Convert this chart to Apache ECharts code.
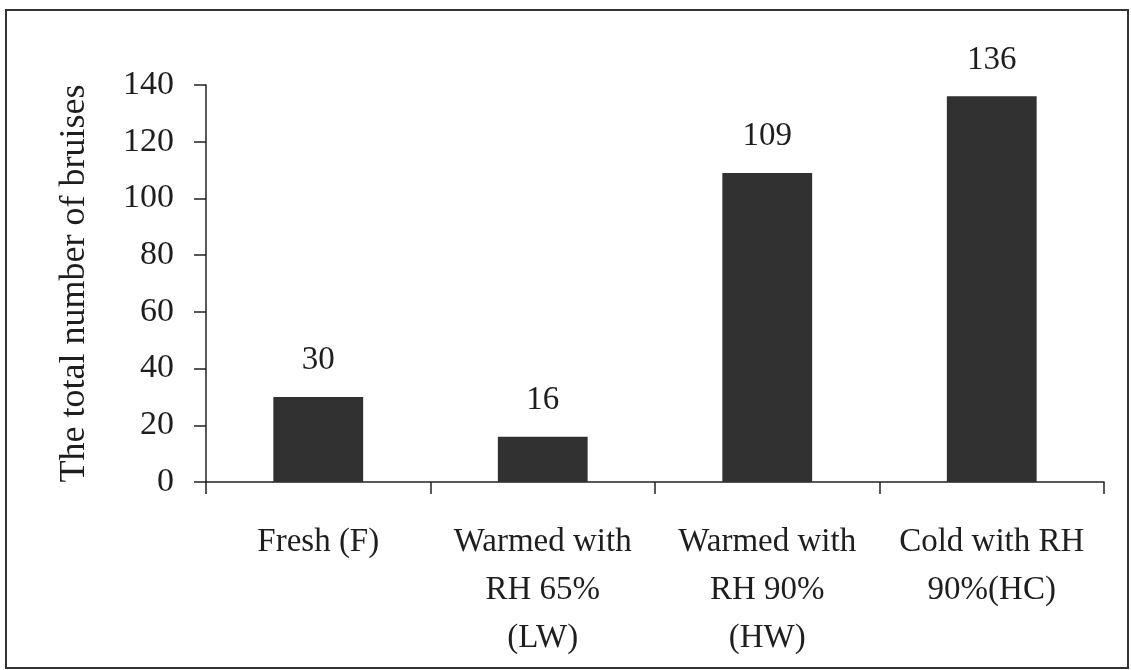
<!DOCTYPE html>
<html>
<head>
<meta charset="utf-8">
<script src="https://cdn.jsdelivr.net/npm/echarts@6/dist/echarts.min.js"></script>
<style>
html,body{margin:0;padding:0;background:#fff;}
#chart{width:1131px;height:670px;}
</style>
</head>
<body>
<div id="chart"></div>
<script>
const categories = ['Fresh (F)', 'Warmed with\nRH 65%\n(LW)', 'Warmed with\nRH 90%\n(HW)', 'Cold with RH\n90%(HC)'];
const bruises = [30, 16, 109, 136];
const yTicks = [0, 20, 40, 60, 80, 100, 120, 140];
const yTitle = 'The total number of bruises';

const FONT = '"Liberation Serif", "DejaVu Serif", serif';
const TXT = '#1e1e1e';

const chart = echarts.init(document.getElementById('chart'), null, {renderer: 'canvas'});
chart.setOption({
  animation: false,
  backgroundColor: '#fff',
  graphic: [{
    type: 'rect',
    shape: {x: 6, y: 10, width: 1122, height: 658},
    style: {fill: 'none', stroke: '#333', lineWidth: 2},
    silent: true
  }],
  grid: {left: 206, right: 27, top: 85, bottom: 188, containLabel: false},
  xAxis: {
    type: 'category',
    data: categories,
    axisLine: {lineStyle: {color: '#222', width: 1.5}},
    axisTick: {show: true, length: 12, alignWithLabel: false, lineStyle: {color: '#222', width: 1.5}},
    axisLabel: {
      interval: 0, margin: 36, color: TXT, fontFamily: FONT, fontSize: 33,
      lineHeight: 48, align: 'center'
    }
  },
  yAxis: {
    type: 'value',
    min: yTicks[0], max: yTicks[yTicks.length - 1], interval: 20,
    name: yTitle, nameLocation: 'middle', nameGap: 113, nameRotate: 90,
    nameTextStyle: {color: TXT, fontFamily: FONT, fontSize: 36},
    axisLine: {show: true, lineStyle: {color: '#222', width: 1.5}},
    axisTick: {show: true, length: 12, lineStyle: {color: '#222', width: 1.5}},
    splitLine: {show: false},
    axisLabel: {margin: 32, color: TXT, fontFamily: FONT, fontSize: 34}
  },
  series: [{
    type: 'bar',
    data: bruises,
    barWidth: '40%',
    itemStyle: {color: '#313131'},
    label: {show: true, position: 'top', distance: 20, color: TXT, fontFamily: FONT, fontSize: 33}
  }]
});
</script>
</body>
</html>
